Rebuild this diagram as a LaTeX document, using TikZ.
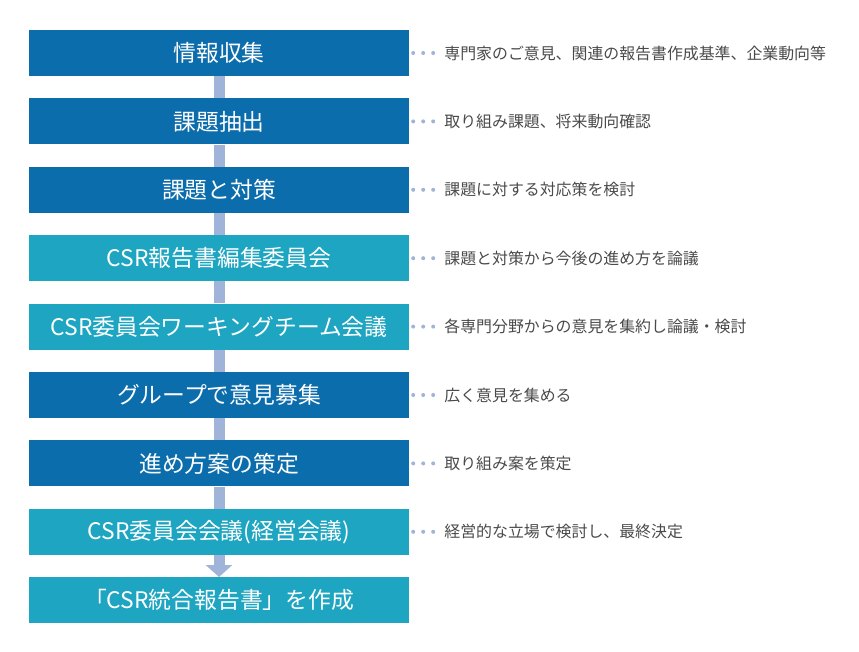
\documentclass[tikz,border=0pt]{standalone}
\usepackage{fontspec}
\setmainfont{Noto Sans CJK JP}
\usepackage{tikz}
\usetikzlibrary{arrows.meta,positioning}

\definecolor{StepBlue}{HTML}{0C6DAD}
\definecolor{StepTeal}{HTML}{1DA5C1}
\definecolor{BarBlue}{HTML}{A0B3D9}
\definecolor{NoteGray}{HTML}{4A4A4A}

\begin{document}
\begin{tikzpicture}[x=1pt,y=-1pt,node distance=22pt,
  box/.style={minimum width=380pt,minimum height=46pt,inner sep=0pt,
              text=white,font=\fontsize{22.8}{24}\selectfont},
  dark/.style={box,fill=StepBlue},
  teal/.style={box,fill=StepTeal},
  note/.style={inner sep=0pt,text=NoteGray,font=\fontsize{15.9}{17}\selectfont},
  bar/.style={draw=BarBlue,line width=11pt},
  dots/.style={draw=BarBlue,line width=4pt,line cap=round,
               dash pattern=on 0pt off 10pt,shorten <=4pt,shorten >=9pt}]

\useasboundingbox (0,0) rectangle (859,651);

\node[dark] (B1) at (219,53) {情報収集};
\node[dark] (B2) [below=of B1] {課題抽出};
\node[dark] (B3) [below=of B2] {課題と対策};
\node[teal] (B4) [below=of B3] {CSR報告書編集委員会};
\node[teal] (B5) [below=of B4] {CSR委員会ワーキングチーム会議};
\node[dark] (B6) [below=of B5] {グループで意見募集};
\node[dark] (B7) [below=of B6] {進め方案の策定};
\node[teal] (B8) [below=of B7] {CSR委員会会議(経営会議)};
\node[teal] (B9) [below=of B8] {「CSR統合報告書」を作成};

\node[note] (N1) [right=35pt of B1] {専門家のご意見、関連の報告書作成基準、企業動向等};
\node[note] (N2) [right=35pt of B2] {取り組み課題、将来動向確認};
\node[note] (N3) [right=35pt of B3] {課題に対する対応策を検討};
\node[note] (N4) [right=35pt of B4] {課題と対策から今後の進め方を論議};
\node[note] (N5) [right=35pt of B5] {各専門分野からの意見を集約し論議・検討};
\node[note] (N6) [right=35pt of B6] {広く意見を集める};
\node[note] (N7) [right=35pt of B7] {取り組み案を策定};
\node[note] (N8) [right=35pt of B8] {経営的な立場で検討し、最終決定};

\path (B1) edge[bar] (B2)
      (B2) edge[bar] (B3)
      (B3) edge[bar] (B4)
      (B4) edge[bar] (B5)
      (B5) edge[bar] (B6)
      (B6) edge[bar] (B7)
      (B7) edge[bar] (B8)
      (B8) edge[bar,-{Triangle[width=26pt,length=12pt]},BarBlue] (B9);

\path (B1) edge[dots] (N1)
      (B2) edge[dots] (N2)
      (B3) edge[dots] (N3)
      (B4) edge[dots] (N4)
      (B5) edge[dots] (N5)
      (B6) edge[dots] (N6)
      (B7) edge[dots] (N7)
      (B8) edge[dots] (N8);

\end{tikzpicture}
\end{document}
